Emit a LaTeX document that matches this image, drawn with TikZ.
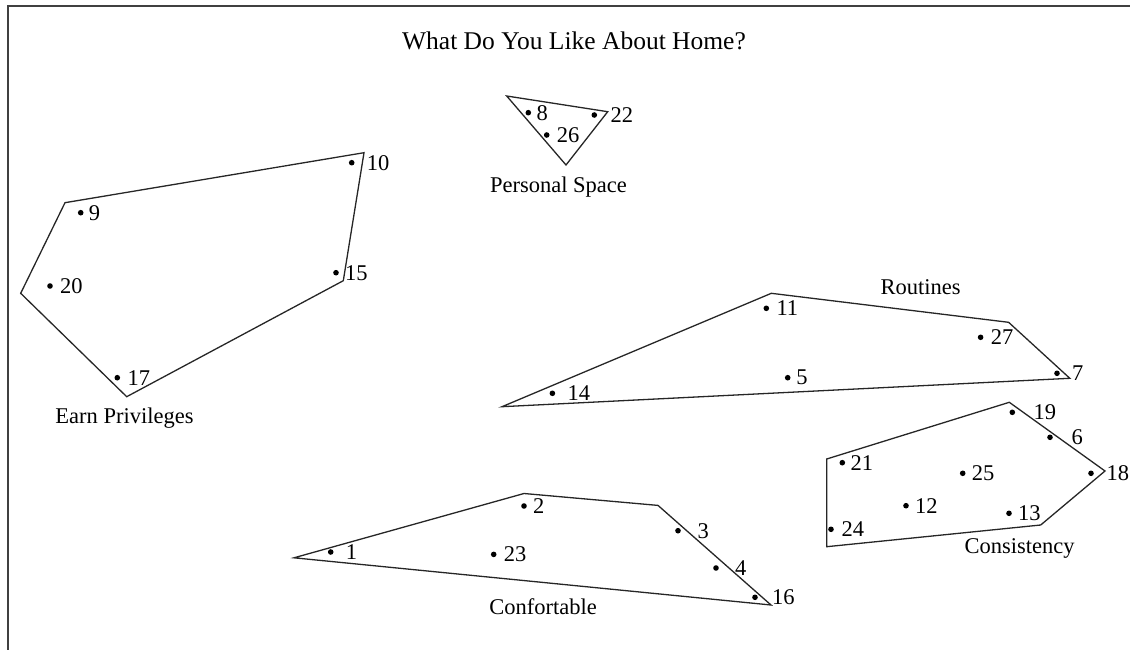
\documentclass[tikz,border=0pt]{standalone}
\usepackage{fontspec}
\setmainfont{Liberation Serif}
\usepackage{tikz}

\tikzset{
  hull/.style={draw=black!85, line width=1.3pt, line join=miter},
  num/.style={anchor=west, inner sep=0pt, font=\fontsize{22.5}{26}\selectfont},
  grp/.style={anchor=base, inner sep=0pt, font=\fontsize{22.5}{26}\selectfont},
}
% dot with its number: name, x, y, number, gap
\newcommand{\vote}[5]{%
  \fill (#2,#3) circle (2.8pt);
  \node[num] (#1) at ([xshift=#5pt]#2,#3) {#4};
}

\begin{document}
\begin{tikzpicture}[x=1pt, y=-1pt]
    \useasboundingbox (0,0) rectangle (1130,650);
    \draw[black!75, line width=2pt] (7.5,650) -- (7.5,5.7) -- (1130,5.7);

    \node[anchor=base, inner sep=0pt, font=\fontsize{25.5}{30}\selectfont] (title) at (574,49.3) {What Do You Like About Home?};

    % Earn Privileges
    \draw[hull] (65,202.7) -- (364,152.7) -- (343.3,280.7) -- (126.7,396.7) -- (20.7,293.3) -- cycle;
    \vote{n9}{80.7}{212.7}{9}{8}
    \vote{n10}{351.7}{162.7}{10}{15}
    \vote{n15}{336}{272.7}{15}{9}
    \vote{n20}{50}{286}{20}{10}
    \vote{n17}{117.3}{377.7}{17}{10}
    \node[grp] (earn) at (124.5,423) {Earn Privileges};

    % Personal Space
    \draw[hull] (506.7,96) -- (607.7,111.7) -- (566,165) -- cycle;
    \vote{n8}{528.3}{112.7}{8}{8}
    \vote{n22}{594.3}{115}{22}{16}
    \vote{n26}{546.7}{135}{26}{10}
    \node[grp] (space) at (558.5,193) {Personal Space};

    % Routines
    \draw[hull] (502,406.7) -- (771.3,293.3) -- (1008.6,322.3) -- (1069.8,378.3) -- cycle;
    \vote{n11}{766.3}{308.3}{11}{10}
    \vote{n27}{980.6}{337.3}{27}{10}
    \vote{n5}{787.7}{377.7}{5}{8.5}
    \vote{n7}{1057}{373.3}{7}{15}
    \vote{n14}{552.4}{393.3}{14}{15}
    \node[grp] (routines) at (920.5,294) {Routines};

    % Consistency
    \draw[hull] (826.7,459) -- (1009.3,402.3) -- (1105,471) -- (1040.7,525) -- (826.7,546.7) -- cycle;
    \vote{n19}{1012.3}{412.3}{19}{21}
    \vote{n6}{1050}{437.3}{6}{21.5}
    \vote{n18}{1091}{473.3}{18}{15.5}
    \vote{n21}{842.3}{462.7}{21}{8}
    \vote{n25}{962.7}{473.3}{25}{9}
    \vote{n12}{906}{505.7}{12}{9}
    \vote{n13}{1009}{513.3}{13}{9}
    \vote{n24}{831}{529.3}{24}{10.5}
    \node[grp] (consistency) at (1019.5,553.3) {Consistency};

    % Confortable
    \draw[hull] (294,557.8) -- (524,493.5) -- (658,505.4) -- (771,605) -- cycle;
    \vote{n1}{330.7}{552}{1}{15}
    \vote{n2}{524}{506}{2}{9}
    \vote{n23}{493.7}{554.4}{23}{10}
    \vote{n3}{678}{530.7}{3}{19.5}
    \vote{n4}{716}{568}{4}{19}
    \vote{n16}{755}{597.3}{16}{17}
    \node[grp] (comfort) at (543,614) {Confortable};
\end{tikzpicture}
\end{document}
